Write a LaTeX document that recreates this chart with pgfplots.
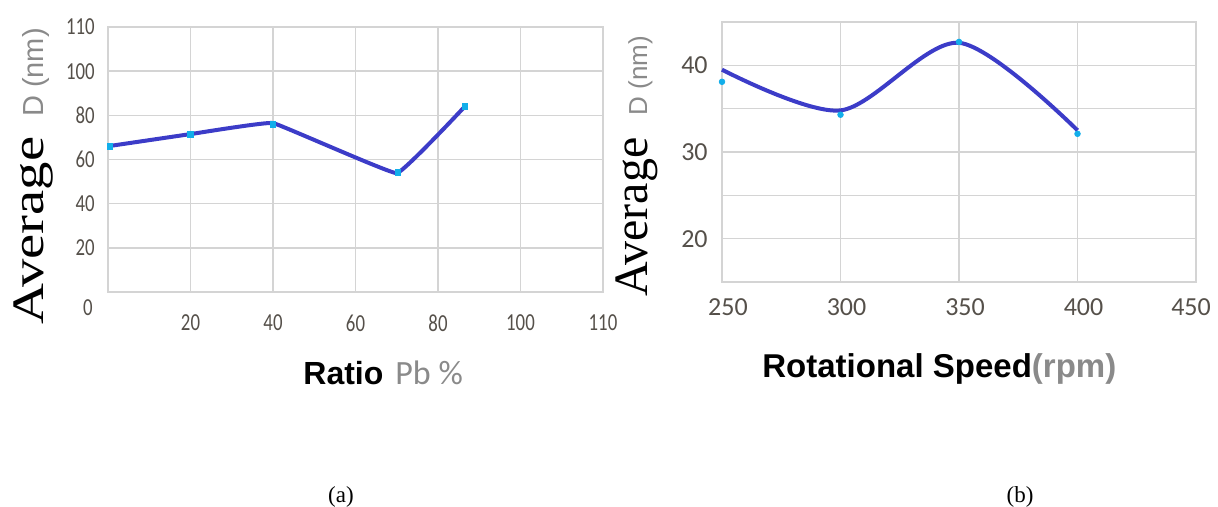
\documentclass[border=0pt]{standalone}
\usepackage{pgfplots}
\pgfplotsset{compat=1.18}
\usepackage{fontspec}
\usepackage{graphicx}
\setmainfont{Liberation Serif}
\newfontfamily\carlito{Carlito}
\newfontfamily\lsans{Liberation Sans}
\definecolor{gridc}{HTML}{D4D4D4}
\definecolor{ticktxt}{HTML}{55504A}
\definecolor{labgray}{HTML}{8A8A8A}
\definecolor{linec}{HTML}{3C3CC8}
\definecolor{markc}{HTML}{12AEEA}
\begin{document}
\begin{tikzpicture}
\useasboundingbox (0pt,0pt) rectangle (609pt,253.5pt);
% ---------- (a) ----------
\begin{axis}[
  at={(54pt,107.5pt)}, anchor=south west,
  scale only axis, width=247.5pt, height=132.5pt,
  xmin=0, xmax=120, ymin=0, ymax=120,
  xtick={0,20,40,60,80,100,120},
  xticklabels={,20,40,60,80,100,110},
  ytick={0,20,40,60,80,100,120},
  yticklabels={,20,40,60,80,100,110},
  grid=major,
  major grid style={gridc, line width=0.8pt},
  axis line style={gridc, line width=0.8pt},
  major tick length=0pt,
  tick style={draw=none},
  xticklabel style={font=\carlito\fontsize{9.4pt}{10pt}\selectfont, text=ticktxt, anchor=center, yshift=-15.5pt, inner sep=0pt, yscale=1.3},
  yticklabel style={font=\carlito\fontsize{9.4pt}{10pt}\selectfont, text=ticktxt, anchor=east, xshift=-6.5pt, inner sep=0pt, yscale=1.3},
  clip=false,
]
\addplot[linec, line width=2pt, smooth, tension=0.12] coordinates {
  (0,66) (20,71.5) (40,76.5) (70,53.8) (86.5,84)
};
\addplot[only marks, mark=square*, mark size=1.4pt, markc] coordinates {
  (0.5,66) (20,71.4) (40,75.8) (70.3,54.1) (86.5,84)
};
\end{axis}
\node[font=\carlito\fontsize{9.4pt}{10pt}\selectfont, text=ticktxt, yscale=1.3] at (44pt,99.5pt) {0};
\node[rotate=90, anchor=base west, inner sep=0pt] at (21.5pt,91pt)
  {\scalebox{1.26}[1]{\fontsize{22.5pt}{24pt}\selectfont Average}\hspace{10pt}{\lsans\fontsize{14.5pt}{16pt}\selectfont\color{labgray}D (nm)}};
\node[anchor=base west, inner sep=0pt] at (151.5pt,61pt)
  {{\lsans\bfseries\fontsize{16pt}{18pt}\selectfont Ratio}\hspace{6pt}{\carlito\fontsize{17pt}{18pt}\selectfont\color{labgray}Pb \%}};
\node[anchor=base, inner sep=0pt, font=\fontsize{11.5pt}{13pt}\selectfont] at (170.5pt,2pt) {(a)};
% ---------- (b) ----------
\begin{axis}[
  at={(361pt,112.5pt)}, anchor=south west,
  scale only axis, width=237pt, height=130pt,
  xmin=250, xmax=450, ymin=15, ymax=45,
  xtick={250,300,350,400},
  xticklabels={250,300,350,400},
  extra x ticks={450},
  extra x tick labels={450},
  extra x tick style={xticklabel style={xshift=-5.5pt}},
  ytick={15,20,25,30,35,40,45},
  yticklabels={,20,,30,,40,},
  grid=major,
  major grid style={gridc, line width=0.8pt},
  axis line style={gridc, line width=0.8pt},
  major tick length=0pt,
  tick style={draw=none},
  xticklabel style={font=\carlito\fontsize{13pt}{14pt}\selectfont, text=ticktxt, anchor=center, yshift=-12.5pt, xshift=3pt, inner sep=0pt},
  yticklabel style={font=\carlito\fontsize{13pt}{14pt}\selectfont, text=ticktxt, anchor=east, xshift=-7pt, inner sep=0pt},
  clip=false,
]
\addplot[linec, line width=2pt, smooth, tension=0.5] coordinates {
  (250,39.5) (300,34.8) (350,42.6) (400,32.5)
};
\addplot[only marks, mark=*, mark size=1.4pt, markc] coordinates {
  (250,38.1) (300,34.3) (350,42.7) (400,32.1)
};
\end{axis}
\node[rotate=90, anchor=base west, inner sep=0pt] at (323.5pt,105pt)
  {{\fontsize{24pt}{26pt}\selectfont Average}\hspace{11pt}{\lsans\fontsize{13pt}{15pt}\selectfont\color{labgray}D (nm)}};
\node[anchor=base west, inner sep=0pt] at (381pt,64.5pt)
  {{\lsans\bfseries\fontsize{16.5pt}{18pt}\selectfont Rotational Speed}{\lsans\bfseries\fontsize{16.5pt}{18pt}\selectfont\color{labgray}(rpm)}};
\node[anchor=base, inner sep=0pt, font=\fontsize{11.5pt}{13pt}\selectfont] at (510pt,2pt) {(b)};
\end{tikzpicture}
\end{document}
